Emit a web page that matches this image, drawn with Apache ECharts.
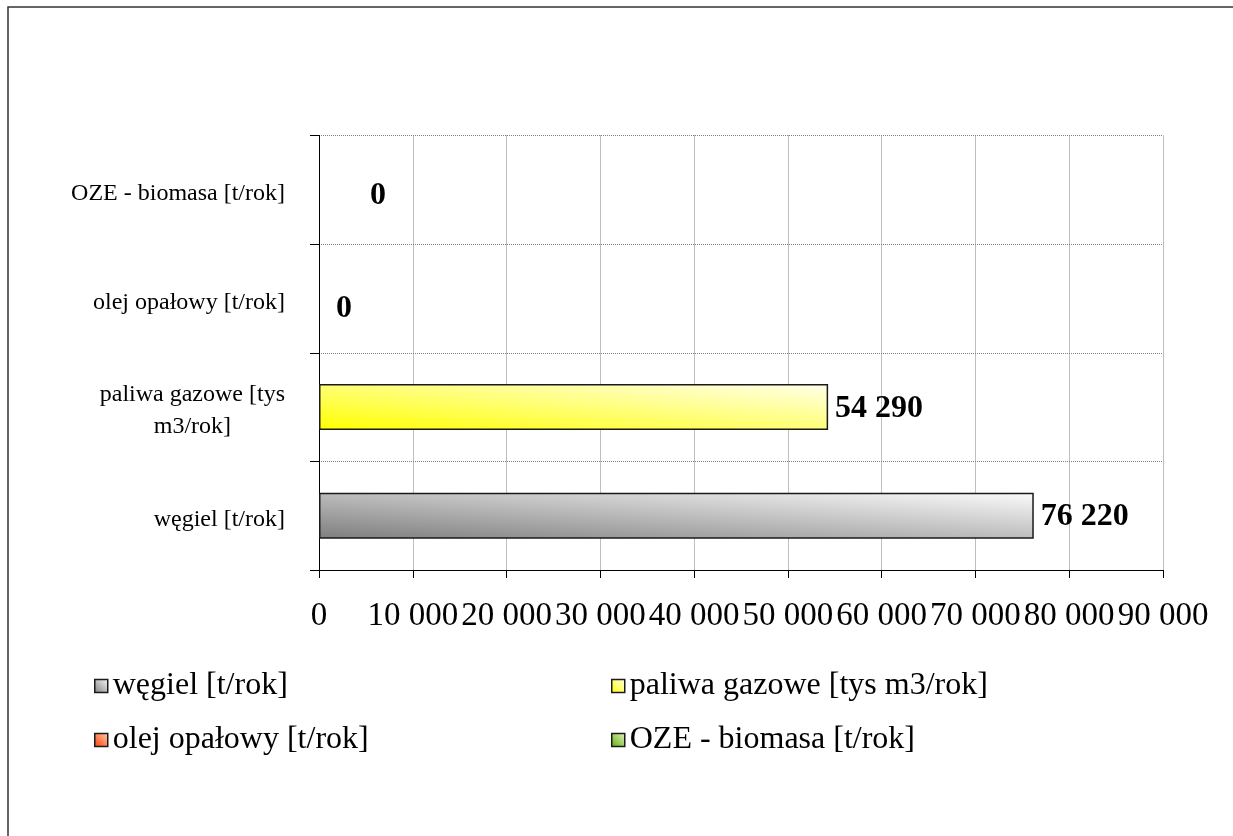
<!DOCTYPE html>
<html>
<head>
<meta charset="utf-8">
<script src="https://cdn.jsdelivr.net/npm/echarts@6/dist/echarts.min.js"></script>
<style>
  html, body { margin: 0; padding: 0; background: #fff; }
  #chart { width: 1233px; height: 836px; }
</style>
</head>
<body>
<div id="chart"></div>
<script>
// Fuel consumption per year, one bar per fuel type
const categories = ['węgiel [t/rok]', 'paliwa gazowe [tys m3/rok]', 'olej opałowy [t/rok]', 'OZE - biomasa [t/rok]'];
const values = [76220, 54290, 0, 0];
const xTicks = [0, 10000, 20000, 30000, 40000, 50000, 60000, 70000, 80000, 90000];
const legendLeft = ['węgiel [t/rok]', 'olej opałowy [t/rok]'];
const legendRight = ['paliwa gazowe [tys m3/rok]', 'OZE - biomasa [t/rok]'];

const FONT = '"Liberation Serif", "Times New Roman", serif';
const BAR_H = 46;

// gradient end colours per fuel (dark corner -> light corner)
const fills = [
  ['#7e7e7e', '#fbfbfb'],
  ['#ffff00', '#ffffea'],
  ['#ff3c00', '#ffd2b4'],
  ['#5fae00', '#e6f3cc']
];
// label placement per bar
const labelDist = [7, 7, 17, 51];
const labelDy = [1, 2, 10, 6];

const fmt = v => String(v).replace(/\B(?=(\d{3})+(?!\d))/g, ' ');

// Diagonal gradient running from the bottom-left corner to the top-right
// corner of a w x h rectangle, with isolines parallel to its other diagonal.
function diagGradient(w, h, c) {
  w = Math.max(w, 1);
  const s = w * w + h * h;
  return new echarts.graphic.LinearGradient(0, 1, 2 * h * h / s, 1 - 2 * w * w / s, [
    { offset: 0, color: c[0] },
    { offset: 1, color: c[1] }
  ]);
}

function buildSeries(barLengths) {
  return categories.map((name, i) => ({
    name: name,
    type: 'bar',
    barWidth: BAR_H,
    barGap: '-100%',
    data: categories.map((c, j) => (j === i ? values[i] : '-')),
    itemStyle: {
      color: diagGradient(barLengths[i], BAR_H, fills[i]),
      borderColor: '#1a1a1a',
      borderWidth: values[i] > 0 ? 1.5 : 0
    },
    label: {
      show: true,
      position: 'right',
      distance: labelDist[i],
      offset: [0, labelDy[i]],
      formatter: p => fmt(p.value),
      fontFamily: FONT,
      fontWeight: 'bold',
      fontSize: 32,
      color: '#000'
    },
    emphasis: { disabled: true }
  }));
}

function legendItems(names) {
  return names.map(n => ({
    name: n,
    itemStyle: {
      color: diagGradient(14, 14, fills[categories.indexOf(n)]),
      borderColor: '#1a1a1a',
      borderWidth: 1.5
    }
  }));
}

const legendBase = {
  orient: 'vertical',
  itemWidth: 13,
  itemHeight: 13,
  itemGap: 22,
  padding: 0,
  icon: 'rect',
  selectedMode: false,
  textStyle: { fontFamily: FONT, fontSize: 32, color: '#000', lineHeight: 32 }
};

const chart = echarts.init(document.getElementById('chart'), null, { renderer: 'canvas' });
chart.setOption({
  animation: false,
  backgroundColor: '#fff',
  graphic: [{
    type: 'rect',
    shape: { x: 8, y: 7, width: 1400, height: 1000 },
    style: { fill: 'none', stroke: '#333', lineWidth: 1.5 },
    silent: true
  }],
  grid: { left: 319, right: 70, top: 135.5, bottom: 266 },
  xAxis: {
    type: 'value',
    min: xTicks[0],
    max: xTicks[xTicks.length - 1],
    interval: xTicks[1] - xTicks[0],
    axisLine: { show: true, lineStyle: { color: '#000', width: 1 } },
    axisTick: { show: true, length: 8, lineStyle: { color: '#000' } },
    splitLine: { show: true, lineStyle: { color: '#808080', type: 'dotted', width: 1 } },
    axisLabel: {
      fontFamily: FONT, fontSize: 33, color: '#000', margin: 30,
      formatter: v => fmt(v)
    }
  },
  yAxis: {
    type: 'category',
    data: categories,
    axisLine: { show: true, lineStyle: { color: '#000', width: 1 } },
    axisTick: { show: true, length: 9, lineStyle: { color: '#000' } },
    splitLine: { show: true, lineStyle: { color: '#808080', type: 'dotted', width: 1 } },
    axisLabel: {
      fontFamily: FONT, fontSize: 24, color: '#000', margin: 34,
      lineHeight: 32,
      padding: [8, 0, 0, 0],
      formatter: v => v.indexOf('[tys ') >= 0
        ? v.replace('[tys ', '[tys\n').split('\n').map(s => '{c|' + s + '}').join('\n')
        : v,
      rich: {
        c: { align: 'center', fontFamily: FONT, fontSize: 24, color: '#000', lineHeight: 32 }
      }
    }
  },
  legend: [
    Object.assign({}, legendBase, { data: legendItems(legendLeft), left: 94, top: 670 }),
    Object.assign({}, legendBase, { data: legendItems(legendRight), left: 611, top: 670 })
  ],
  series: buildSeries(values.map(() => 1))
});

// Bar lengths in pixels come from the value axis, so each gradient spans its own bar.
const x0 = chart.convertToPixel({ xAxisIndex: 0 }, 0);
const lengths = values.map(v => chart.convertToPixel({ xAxisIndex: 0 }, v) - x0);
chart.setOption({ series: buildSeries(lengths) });
</script>
</body>
</html>
